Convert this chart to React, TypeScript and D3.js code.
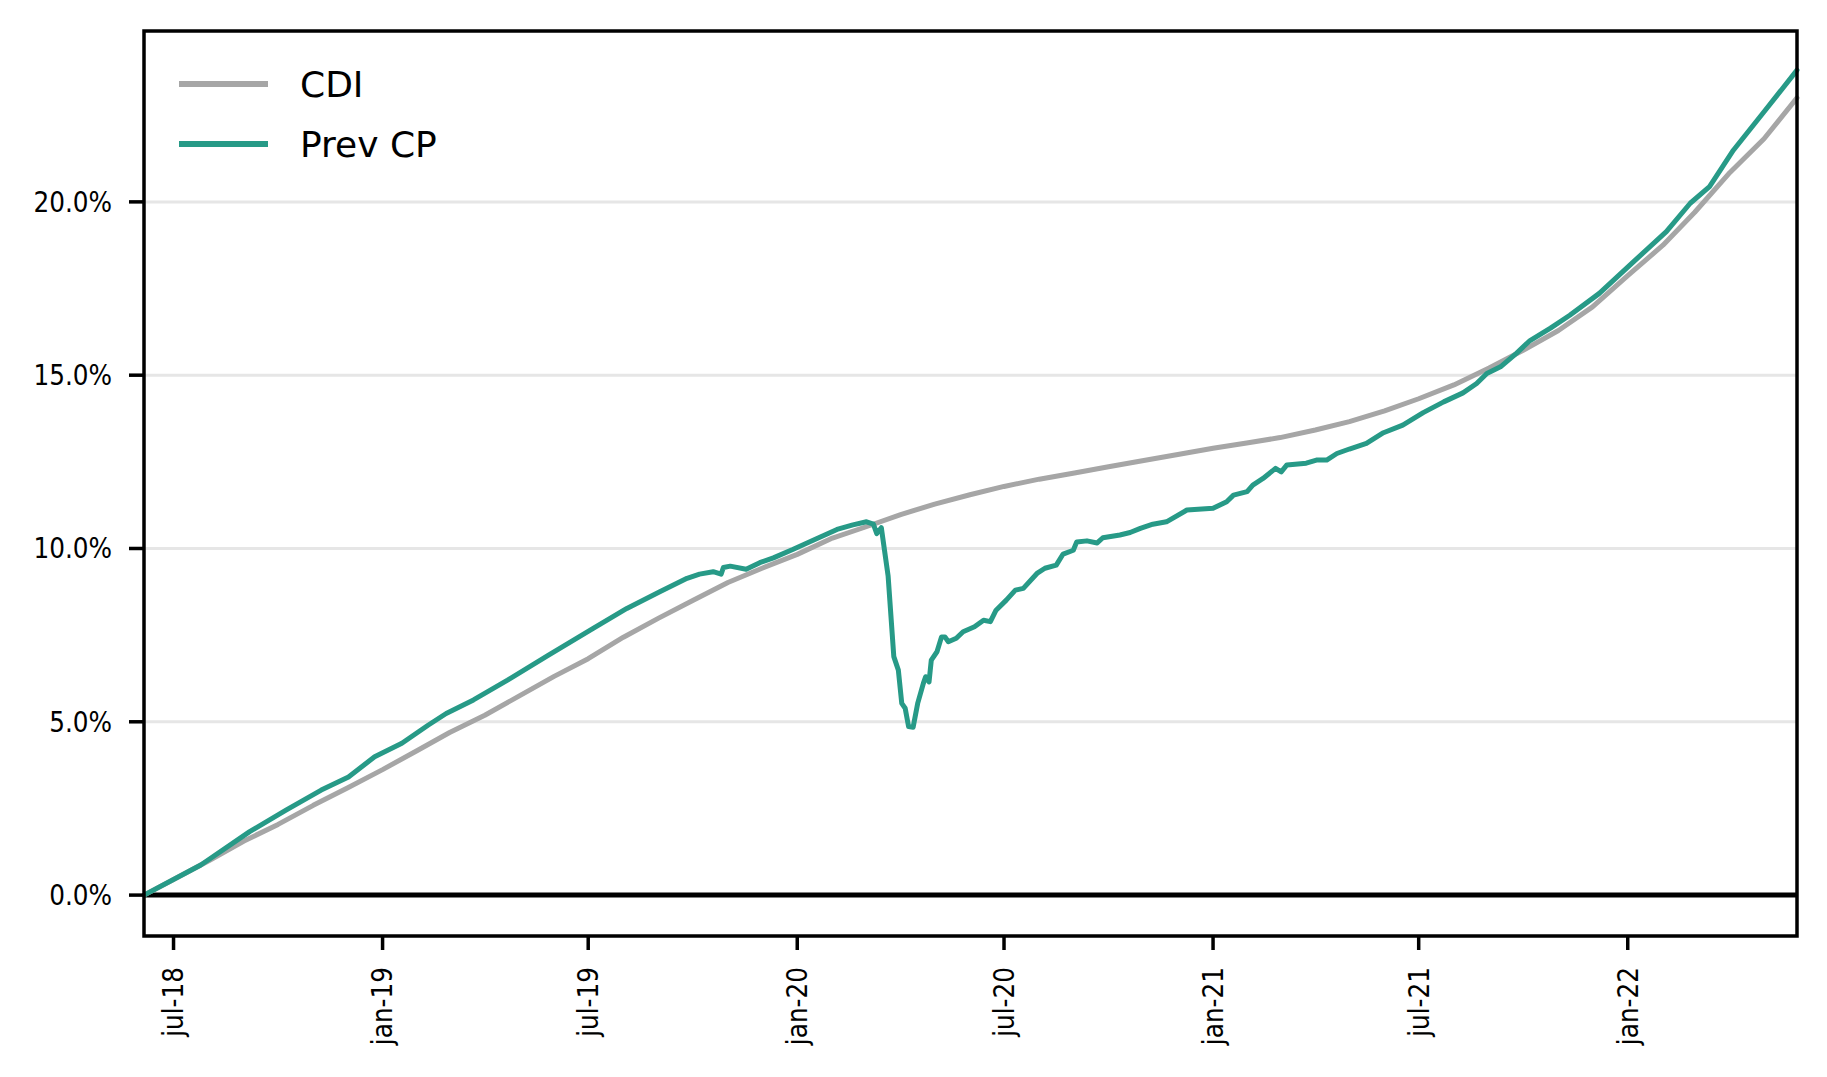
import React from 'react';
import * as d3 from 'd3';

// CDI accumulated return (%), month starts
const cdiDates = [
  '2018-06-05', '2018-07-01', '2018-08-01', '2018-09-01', '2018-10-01', '2018-11-01', '2018-12-01',
  '2019-01-01', '2019-02-01', '2019-03-01', '2019-04-01', '2019-05-01', '2019-06-01', '2019-07-01',
  '2019-08-01', '2019-09-01', '2019-10-01', '2019-11-01', '2019-12-01', '2020-01-01', '2020-02-01',
  '2020-03-01', '2020-04-01', '2020-05-01', '2020-06-01', '2020-07-01', '2020-08-01', '2020-09-01',
  '2020-10-01', '2020-11-01', '2020-12-01', '2021-01-01', '2021-02-01', '2021-03-01', '2021-04-01',
  '2021-05-01', '2021-06-01', '2021-07-01', '2021-08-01', '2021-09-01', '2021-10-01', '2021-11-01',
  '2021-12-01', '2022-01-01', '2022-02-01', '2022-03-01', '2022-04-01', '2022-05-01', '2022-05-30',
];
const cdiValues = [
  0, 0.45, 0.99, 1.56, 2.04, 2.59, 3.09,
  3.62, 4.18, 4.69, 5.19, 5.74, 6.31, 6.82,
  7.44, 7.99, 8.5, 9.02, 9.43, 9.83, 10.3,
  10.62, 10.98, 11.28, 11.55, 11.79, 12.0, 12.18,
  12.36, 12.54, 12.71, 12.89, 13.05, 13.2, 13.42,
  13.66, 13.97, 14.32, 14.72, 15.21, 15.72, 16.29,
  16.97, 17.87, 18.75, 19.7, 20.85, 21.82, 23.0,
];

// Prev CP accumulated return (%)
const prevDates = [
  '2018-06-05', '2018-07-25', '2018-09-06', '2018-10-08', '2018-11-08', '2018-12-02', '2018-12-25',
  '2019-01-18', '2019-02-10', '2019-02-26', '2019-03-22', '2019-04-21', '2019-05-26', '2019-07-05',
  '2019-08-04', '2019-09-02', '2019-09-26', '2019-10-07', '2019-10-19', '2019-10-26', '2019-10-28',
  '2019-11-03', '2019-11-17', '2019-11-29', '2019-12-11', '2019-12-28', '2020-01-15', '2020-02-05',
  '2020-02-19', '2020-03-02', '2020-03-08', '2020-03-11', '2020-03-15', '2020-03-21', '2020-03-26',
  '2020-03-30', '2020-04-02', '2020-04-05', '2020-04-08', '2020-04-12', '2020-04-16', '2020-04-21',
  '2020-04-23', '2020-04-26', '2020-04-28', '2020-05-03', '2020-05-07', '2020-05-10', '2020-05-13',
  '2020-05-20', '2020-05-26', '2020-06-05', '2020-06-13', '2020-06-19', '2020-06-24', '2020-07-03',
  '2020-07-11', '2020-07-18', '2020-07-30', '2020-08-06', '2020-08-16', '2020-08-22', '2020-08-31',
  '2020-09-03', '2020-09-12', '2020-09-21', '2020-09-26', '2020-10-11', '2020-10-20', '2020-10-29',
  '2020-11-09', '2020-11-21', '2020-12-09', '2021-01-01', '2021-01-13', '2021-01-19', '2021-01-31',
  '2021-02-05', '2021-02-14', '2021-02-25', '2021-03-02', '2021-03-07', '2021-03-24', '2021-04-02',
  '2021-04-11', '2021-04-20', '2021-05-01', '2021-05-16', '2021-05-31', '2021-06-17', '2021-07-05',
  '2021-07-23', '2021-08-09', '2021-08-21', '2021-08-30', '2021-09-11', '2021-09-25', '2021-10-07',
  '2021-10-25', '2021-11-11', '2021-12-07', '2022-01-06', '2022-02-04', '2022-02-25', '2022-03-14',
  '2022-04-04', '2022-05-01', '2022-05-30',
];
const prevValues = [
  0, 0.87, 1.83, 2.45, 3.03, 3.41, 3.99,
  4.38, 4.9, 5.24, 5.63, 6.2, 6.9, 7.69,
  8.27, 8.75, 9.14, 9.26, 9.33, 9.26, 9.45,
  9.49, 9.4, 9.59, 9.73, 9.97, 10.24, 10.55,
  10.68, 10.77, 10.7, 10.43, 10.6, 9.2, 6.88,
  6.49, 5.53, 5.39, 4.86, 4.84, 5.53, 6.11,
  6.3, 6.15, 6.78, 7.02, 7.45, 7.45, 7.31,
  7.41, 7.6, 7.74, 7.93, 7.89, 8.22, 8.51,
  8.8, 8.85, 9.28, 9.43, 9.52, 9.84, 9.95,
  10.19, 10.22, 10.16, 10.31, 10.39, 10.46, 10.58,
  10.7, 10.77, 11.11, 11.16, 11.35, 11.54, 11.64,
  11.83, 12.02, 12.31, 12.21, 12.41, 12.46, 12.55,
  12.55, 12.74, 12.87, 13.03, 13.34, 13.56, 13.92,
  14.23, 14.49, 14.76, 15.05, 15.24, 15.63, 16.0,
  16.36, 16.73, 17.36, 18.27, 19.14, 19.96, 20.44,
  21.49, 22.6, 23.8,
];

const yTicks = [0, 5, 10, 15, 20];
const xTickDates = ['2018-07-01', '2019-01-01', '2019-07-01', '2020-01-01', '2020-07-01', '2021-01-01', '2021-07-01', '2022-01-01'];
const xTickLabels = ['jul-18', 'jan-19', 'jul-19', 'jan-20', 'jul-20', 'jan-21', 'jul-21', 'jan-22'];

const seriesNames = ['CDI', 'Prev CP'];
const seriesColors = ['#a6a6a6', '#279a87'];

const W = 1827;
const H = 1077;
const margin = { top: 31, right: 30, bottom: 141, left: 144 };
const font = "'DejaVu Sans', sans-serif";

const parse = d3.utcParse('%Y-%m-%d');

type Pt = { date: Date; v: number };

export default function App() {
  const cdi: Pt[] = cdiDates.map((d, i) => ({ date: parse(d) as Date, v: cdiValues[i] }));
  const prev: Pt[] = prevDates.map((d, i) => ({ date: parse(d) as Date, v: prevValues[i] }));

  const x = d3.scaleUtc()
    .domain([parse('2018-06-05') as Date, parse('2022-05-30') as Date])
    .range([margin.left, W - margin.right]);
  const y = d3.scaleLinear()
    .domain([-1.18, 24.93])
    .range([H - margin.bottom, margin.top]);

  const line = d3.line<Pt>()
    .x(d => x(d.date))
    .y(d => y(d.v));

  const x0 = margin.left;
  const x1 = W - margin.right;
  const y0 = H - margin.bottom;
  const y1 = margin.top;

  return (
    <svg width={W} height={H} style={{ position: 'absolute', left: 0, top: 0, background: '#fff' }}
      fontFamily={font}>
      <rect x={0} y={0} width={W} height={H} fill="#fff" />

      {/* grid */}
      {yTicks.map(t => (
        <line key={'g' + t} x1={x0} x2={x1} y1={y(t)} y2={y(t)} stroke="#e6e6e6" strokeWidth={3} />
      ))}

      {/* zero line */}
      <line x1={x0} x2={x1} y1={y(0)} y2={y(0)} stroke="#000" strokeWidth={5} />

      {/* series */}
      <path d={line(cdi) as string} fill="none" stroke={seriesColors[0]} strokeWidth={5}
        strokeLinejoin="round" strokeLinecap="round" />
      <path d={line(prev) as string} fill="none" stroke={seriesColors[1]} strokeWidth={5}
        strokeLinejoin="round" strokeLinecap="round" />

      {/* frame */}
      <rect x={x0} y={y1} width={x1 - x0} height={y0 - y1} fill="none" stroke="#000" strokeWidth={3.5} />

      {/* y axis */}
      {yTicks.map(t => (
        <g key={'y' + t}>
          <line x1={x0 - 15} x2={x0} y1={y(t)} y2={y(t)} stroke="#000" strokeWidth={3.5} />
          <text x={x0 - 32} y={y(t)} dy="0.36em" textAnchor="end" fontSize={27.5}
            style={{ fontStretch: 'condensed' }}>{t.toFixed(1) + '%'}</text>
        </g>
      ))}

      {/* x axis */}
      {xTickDates.map((d, i) => {
        const xp = x(parse(d) as Date);
        return (
          <g key={'x' + d}>
            <line x1={xp} x2={xp} y1={y0} y2={y0 + 14} stroke="#000" strokeWidth={3.5} />
            <text transform={`translate(${xp},${y0 + 31}) rotate(-90)`} textAnchor="end" dy="0.36em"
              fontSize={27.5} style={{ fontStretch: 'condensed' }}>{xTickLabels[i]}</text>
          </g>
        );
      })}

      {/* legend */}
      {seriesNames.map((name, i) => {
        const ly = 84 + i * 60;
        return (
          <g key={name}>
            <line x1={179} x2={268} y1={ly} y2={ly} stroke={seriesColors[i]} strokeWidth={6} />
            <text x={300} y={ly} dy="0.36em" fontSize={36}>{name}</text>
          </g>
        );
      })}
    </svg>
  );
}
